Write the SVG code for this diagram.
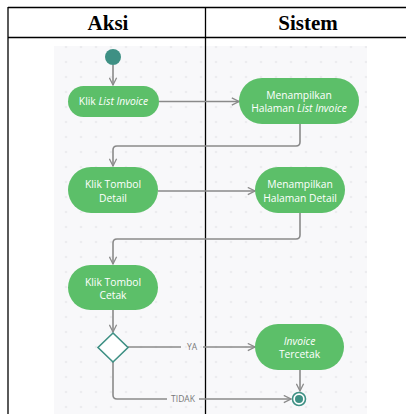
<svg xmlns="http://www.w3.org/2000/svg" width="406" height="414" viewBox="0 0 406 414">
<defs>
<pattern id="dots" patternUnits="userSpaceOnUse" x="-1.5" y="-5.5" width="15" height="15">
<rect width="15" height="15" fill="#F8F8FA"/>
<circle cx="7.5" cy="7.5" r="0.8" fill="#D4D4DA"/>
</pattern>
<marker id="arr" viewBox="0 0 10 10" refX="9" refY="5" markerWidth="9" markerHeight="9" markerUnits="userSpaceOnUse" orient="auto">
<path d="M1,1 L9,5 L1,9" fill="none" stroke="#8A8A8A" stroke-width="1.4"/>
</marker>
<style>
.hdr{font-family:"Liberation Serif",serif;font-weight:bold;font-size:21px;fill:#000;text-anchor:middle}
.node rect{fill:#5CBF69}
.node text{font-family:"Open Sans","Noto Sans",sans-serif;font-size:10.3px;fill:#fff;text-anchor:middle}
.it{font-style:italic}
.conn path{fill:none;stroke:#8A8A8A;stroke-width:1.6}
.lbl{font-family:"Open Sans","Noto Sans",sans-serif;font-size:8.5px;fill:#777;text-anchor:middle}
</style>
</defs>
<rect width="406" height="414" fill="#fff"/>
<rect x="54" y="46" width="313" height="368" fill="url(#dots)"/>
<g id="table" stroke="#000" stroke-width="1.3" fill="none">
<line x1="8" y1="7.5" x2="406" y2="7.5"/>
<line x1="8" y1="37.5" x2="406" y2="37.5"/>
<line x1="8" y1="7" x2="8" y2="414"/>
<line x1="205.5" y1="7" x2="205.5" y2="414"/>
</g>
<text class="hdr" x="108" y="30">Aksi</text>
<text class="hdr" x="308" y="30">Sistem</text>
<g class="conn" id="connectors">
<path d="M113,65 V85" marker-end="url(#arr)"/>
<path d="M159,101.5 H239" marker-end="url(#arr)"/>
<path d="M300,124 V142 Q300,146 296,146 H117 Q113,146 113,150 V166" marker-end="url(#arr)"/>
<path d="M158,191 H255" marker-end="url(#arr)"/>
<path d="M300,213 V235 Q300,239 296,239 H117 Q113,239 113,243 V264" marker-end="url(#arr)"/>
<path d="M113,310 V332" marker-end="url(#arr)"/>
<path d="M128,347 H181 M203,347 H255" marker-end="url(#arr)"/>
<path d="M300,370 V391" marker-end="url(#arr)"/>
<path d="M113,362 V395 Q113,399 117,399 H167 M199,399 H291" marker-end="url(#arr)"/>
</g>
<text class="lbl" x="192" y="350">YA</text>
<text class="lbl" x="183" y="402">TIDAK</text>
<g id="start"><circle cx="113" cy="57" r="8" fill="#3E9084"/></g>
<g id="n1" class="node"><rect x="68" y="86" width="91" height="31" rx="15.5"/><text x="113.5" y="105">Klik <tspan class="it">List Invoice</tspan></text></g>
<g id="n2" class="node"><rect x="239" y="78" width="120" height="46" rx="23"/><text x="299" y="98.5">Menampilkan</text><text x="299" y="112">Halaman <tspan class="it">List Invoice</tspan></text></g>
<g id="n3" class="node"><rect x="68" y="167" width="90" height="46" rx="23"/><text x="113" y="188">Klik Tombol</text><text x="113" y="201.5">Detail</text></g>
<g id="n4" class="node"><rect x="255" y="167" width="90" height="46" rx="23"/><text x="300" y="188">Menampilkan</text><text x="300" y="201.5">Halaman Detail</text></g>
<g id="n5" class="node"><rect x="68" y="265" width="90" height="45" rx="22.5"/><text x="113" y="285.5">Klik Tombol</text><text x="113" y="299">Cetak</text></g>
<g id="decision"><path d="M113,333 L128,347.5 L113,362 L98,347.5 Z" fill="#fff" stroke="#3E9084" stroke-width="1.6"/></g>
<g id="n6" class="node"><rect x="255" y="324" width="89" height="46" rx="23"/><text class="it" x="299.5" y="344.5">Invoice</text><text x="299.5" y="358">Tercetak</text></g>
<g id="end"><circle cx="299" cy="399" r="6.5" fill="#fff" stroke="#3E9084" stroke-width="1.6"/><circle cx="299" cy="399" r="4" fill="#3E9084"/></g>
</svg>
